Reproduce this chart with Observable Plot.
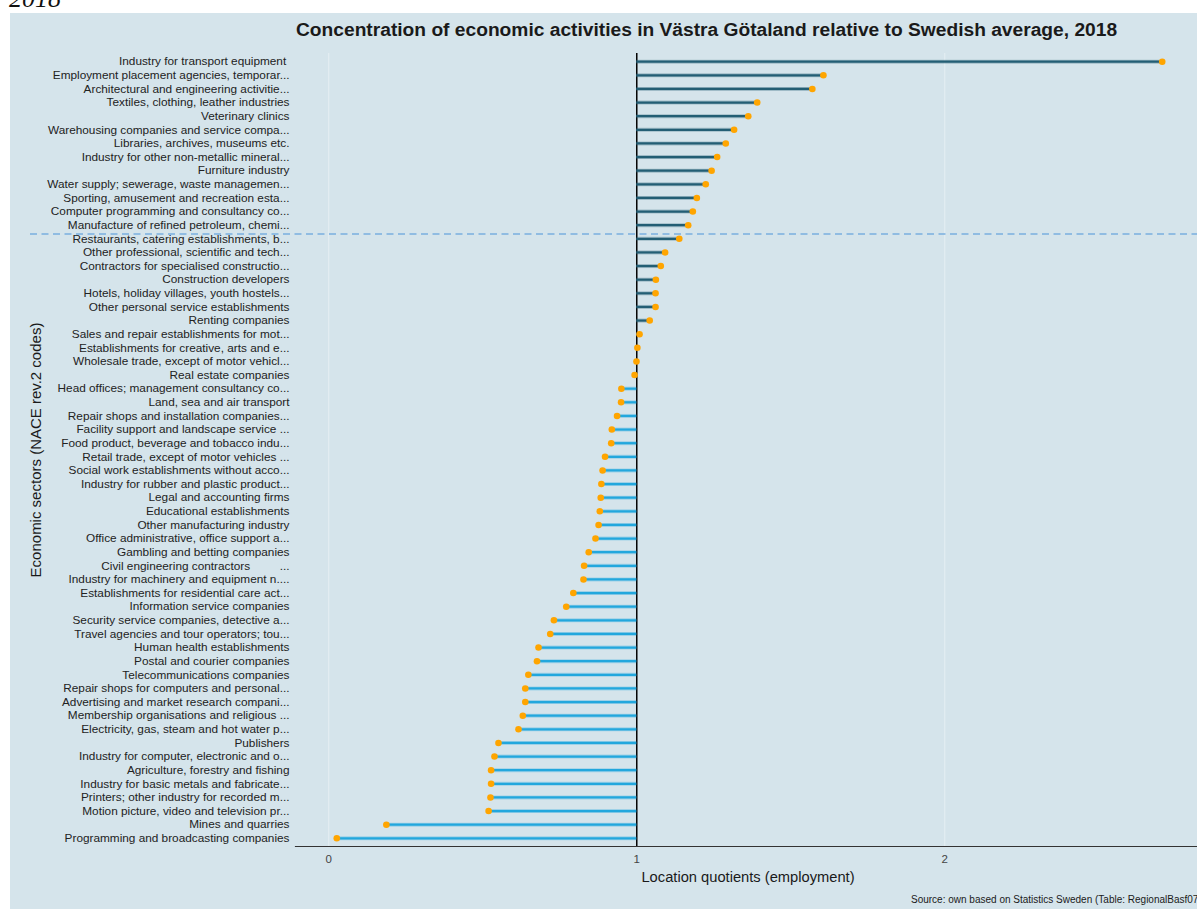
<!DOCTYPE html>
<html>
<head>
<meta charset="utf-8">
<script src="https://cdn.jsdelivr.net/npm/d3@7"></script>
<script src="https://cdn.jsdelivr.net/npm/@observablehq/plot@0.6"></script>
<style>
  html, body { margin: 0; padding: 0; overflow: hidden; background: #ffffff; }
  body { width: 1197px; height: 909px; position: relative; font-family: "Liberation Sans", Arial, sans-serif; }
  #year { position: absolute; left: 9px; top: -14px; font-family: "Liberation Serif", "Times New Roman", serif; font-style: italic; font-size: 26px; line-height: 1; color: #111; }
  #panel { position: absolute; left: 10px; top: 13px; width: 1240px; height: 910px; background: #d5e4eb; }
  #title { position: absolute; left: 286px; top: 7px; font-size: 19.2px; font-weight: bold; line-height: 1; color: #1a1a1a; white-space: nowrap; }
  #chart { position: absolute; left: 0; top: 0; }
  #chart svg text { white-space: pre; }
  #ytitle { position: absolute; left: 25px; top: 437px; transform: translate(-50%, -50%) rotate(-90deg); font-size: 15px; line-height: 1; color: #1a1a1a; white-space: nowrap; }
  #xtitle { position: absolute; left: 738px; top: 857px; transform: translateX(-50%); font-size: 14.7px; line-height: 1; color: #1a1a1a; white-space: nowrap; }
  #source { position: absolute; left: 901px; top: 882px; font-size: 10px; line-height: 1; color: #1a1a1a; white-space: nowrap; }
</style>
</head>
<body>
<div id="year">2018</div>
<div id="panel">
  <div id="title">Concentration of economic activities in Västra Götaland relative to Swedish average, 2018</div>
  <div id="chart"></div>
  <div id="ytitle">Economic sectors (NACE rev.2 codes)</div>
  <div id="xtitle">Location quotients (employment)</div>
  <div id="source">Source: own based on Statistics Sweden (Table: RegionalBasf07)</div>
</div>
<script>
// ---- data ----
const sectors = [
  "Industry for transport equipment ",
  "Employment placement agencies, temporar...",
  "Architectural and engineering activitie...",
  "Textiles, clothing, leather industries",
  "Veterinary clinics",
  "Warehousing companies and service compa...",
  "Libraries, archives, museums etc.",
  "Industry for other non-metallic mineral...",
  "Furniture industry",
  "Water supply; sewerage, waste managemen...",
  "Sporting, amusement and recreation esta...",
  "Computer programming and consultancy co...",
  "Manufacture of refined petroleum, chemi...",
  "Restaurants, catering establishments, b...",
  "Other professional, scientific and tech...",
  "Contractors for specialised constructio...",
  "Construction developers",
  "Hotels, holiday villages, youth hostels...",
  "Other personal service establishments",
  "Renting companies",
  "Sales and repair establishments for mot...",
  "Establishments for creative, arts and e...",
  "Wholesale trade, except of motor vehicl...",
  "Real estate companies",
  "Head offices; management consultancy co...",
  "Land, sea and air transport",
  "Repair shops and installation companies...",
  "Facility support and landscape service ...",
  "Food product, beverage and tobacco indu...",
  "Retail trade, except of motor vehicles ...",
  "Social work establishments without acco...",
  "Industry for rubber and plastic product...",
  "Legal and accounting firms",
  "Educational establishments",
  "Other manufacturing industry",
  "Office administrative, office support a...",
  "Gambling and betting companies",
  "Civil engineering contractors         ...",
  "Industry for machinery and equipment n....",
  "Establishments for residential care act...",
  "Information service companies",
  "Security service companies, detective a...",
  "Travel agencies and tour operators; tou...",
  "Human health establishments",
  "Postal and courier companies",
  "Telecommunications companies",
  "Repair shops for computers and personal...",
  "Advertising and market research compani...",
  "Membership organisations and religious ...",
  "Electricity, gas, steam and hot water p...",
  "Publishers",
  "Industry for computer, electronic and o...",
  "Agriculture, forestry and fishing",
  "Industry for basic metals and fabricate...",
  "Printers; other industry for recorded m...",
  "Motion picture, video and television pr...",
  "Mines and quarries",
  "Programming and broadcasting companies"
];
const locationQuotients = [
  2.706, 1.606, 1.570, 1.391, 1.362, 1.316, 1.289, 1.261, 1.243, 1.224,
  1.195, 1.182, 1.167, 1.138, 1.092, 1.078, 1.062, 1.061, 1.061, 1.042,
  1.009, 1.002, 0.999, 0.993, 0.950, 0.949, 0.936, 0.919, 0.917, 0.897,
  0.889, 0.885, 0.883, 0.880, 0.876, 0.866, 0.844, 0.829, 0.827, 0.794,
  0.771, 0.731, 0.719, 0.681, 0.676, 0.648, 0.638, 0.638, 0.630, 0.616,
  0.551, 0.538, 0.527, 0.527, 0.525, 0.519, 0.187, 0.026
];
const swedishAverage = 1;
const xTicks = [0, 1, 2];
const dividerAfterRank = 12.65; // dashed separator between rank 13 and 14

// ---- build table ----
const rows = sectors.map((s, i) => ({ sector: s, rank: i, lq: locationQuotients[i] }));

const aboveColor = "#235e74";
const belowColor = "#22a7dd";

const chart = Plot.plot({
  width: 1213,
  height: 863,
  marginLeft: 285,
  marginRight: 20,
  marginTop: 40,
  marginBottom: 30,
  style: { background: "transparent", fontFamily: "'Liberation Sans', Arial, sans-serif", fontSize: "11.8px", color: "#262626", overflow: "visible" },
  x: { domain: [-0.108, 2.84] },
  y: { domain: [-0.6, sectors.length - 0.4], reverse: true },
  marks: [
    Plot.ruleX(xTicks, { stroke: "#e6eff3", strokeWidth: 1 }),
    Plot.ruleY([dividerAfterRank], { stroke: "#7aafe0", strokeWidth: 1.6, strokeDasharray: "7,4.5", insetLeft: -265, insetRight: -40 }),
    Plot.ruleX([swedishAverage], { stroke: "#000", strokeWidth: 1.5 }),
    Plot.ruleY(rows, { y: "rank", x1: swedishAverage, x2: "lq", stroke: d => d.lq >= swedishAverage ? aboveColor : belowColor, strokeWidth: 4, strokeOpacity: 0.3 }),
    Plot.ruleY(rows, { y: "rank", x1: swedishAverage, x2: "lq", stroke: d => d.lq >= swedishAverage ? aboveColor : belowColor, strokeWidth: 2.2 }),
    Plot.dot(rows, { x: "lq", y: "rank", fill: "#ffa500", r: 3.3 }),
    Plot.frame({ anchor: "bottom", stroke: "#333", strokeWidth: 1.2 }),
    Plot.axisX({ ticks: xTicks, tickFormat: d => String(d), tickSize: 0, tickPadding: 8, label: null, fill: "#444", fontSize: 11.5 }),
    Plot.axisY({ ticks: rows.map(d => d.rank), tickFormat: i => sectors[i], tickSize: 0, tickPadding: 6, label: null, fill: "#222", fontSize: 11.8 })
  ]
});
document.getElementById("chart").appendChild(chart);
</script>
</body>
</html>
